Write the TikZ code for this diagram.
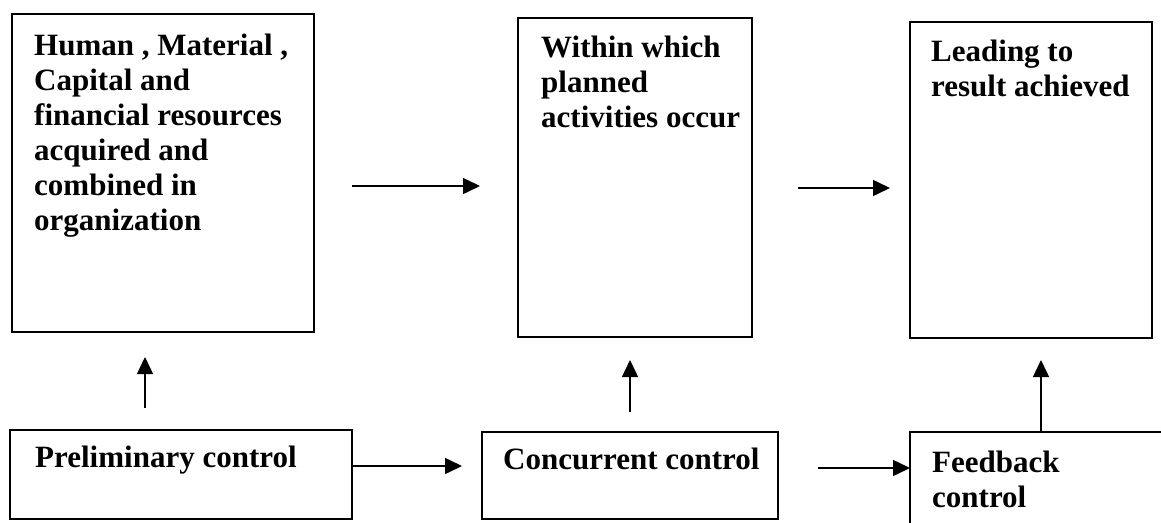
\documentclass[tikz,border=0pt]{standalone}
\usepackage{fontspec}
\setmainfont{Liberation Serif}
\usetikzlibrary{arrows.meta}
\begin{document}
\begin{tikzpicture}[x=1pt,y=-1pt,
  box/.style={draw, line width=1.6pt, rectangle, inner sep=0pt, outer sep=0pt, anchor=north west},
  % a multi-line text is placed by the baseline of its last line
  txt/.style={anchor=base west, inner sep=0pt, align=left, font=\bfseries\fontsize{31}{35}\selectfont},
  arr/.style={line width=1.5pt, -{Triangle[length=17pt,width=16pt]}}]
\clip (0,0) rectangle (1161,522);
\fill[white] (0,0) rectangle (1161,522);

% upper row: resources, activities, results
\node[box, minimum width=302pt, minimum height=318pt] (res) at (12,14) {};
\node[box, minimum width=234pt, minimum height=319pt] (act) at (518,18) {};
\node[box, minimum width=242pt, minimum height=316pt] (out) at (910,22) {};

% lower row: the three kinds of control
\node[box, minimum width=342pt, minimum height=89pt] (pre) at (10,430) {};
\node[box, minimum width=296pt, minimum height=87pt] (con) at (482,432) {};
\node[box, minimum width=265pt, minimum height=103pt] (fbk) at (910,432) {};

% box texts
\node[txt] (tres) at (34,230) {Human , Material ,\\Capital and\\financial resources\\acquired and\\combined in\\organization};
\node[txt] (tact) at (541,127) {Within which\\planned\\activities occur};
\node[txt] (tout) at (931,96) {Leading to\\result achieved};
\node[txt] (tpre) at (35,467) {Preliminary control};
\node[txt] (tcon) at (503,469) {Concurrent control};
\node[txt] (tfbk) at (932,507) {Feedback\\control};

% horizontal flow, upper row
\draw[arr, shorten <=38pt, shorten >=38pt] (res.east |- 0,186) -- (act.west |- 0,186);
\draw[arr, shorten <=46pt, shorten >=20pt] (act.east |- 0,188) -- (out.west |- 0,188);

% horizontal flow, lower row
\draw[arr, shorten >=20pt] (pre.east |- 0,466) -- (con.west |- 0,466);
\draw[arr, shorten <=40pt] (con.east |- 0,468) -- (fbk.west |- 0,468);

% each control acts on the stage above it
\draw[arr, shorten <=22pt, shorten >=25pt] (pre.north -| 145,0) -- (res.south -| 145,0);
\draw[arr, shorten <=20pt, shorten >=23pt] (con.north -| 630,0) -- (act.south -| 630,0);
\draw[arr, shorten >=22pt] (fbk.north -| 1041,0) -- (out.south -| 1041,0);
\end{tikzpicture}
\end{document}
